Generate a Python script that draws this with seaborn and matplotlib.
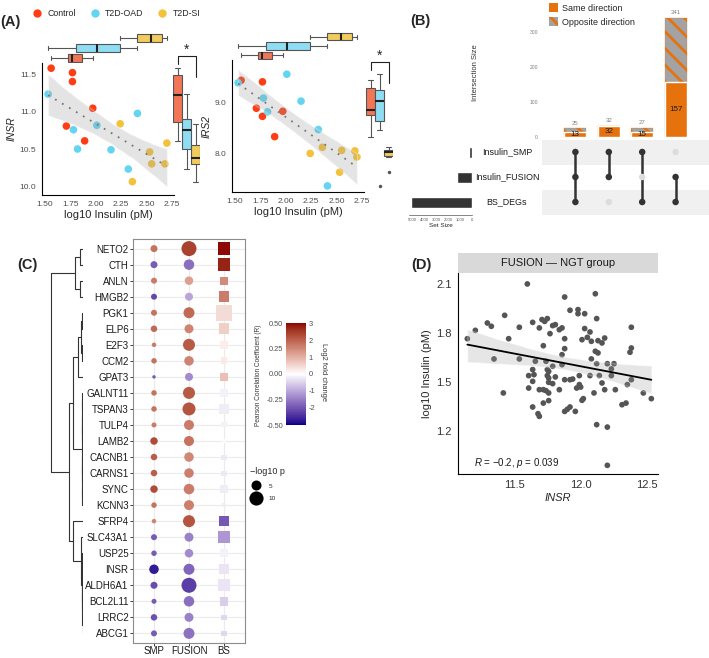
import numpy as np
import pandas as pd
import matplotlib
matplotlib.use('Agg')
import matplotlib.pyplot as plt
import matplotlib.transforms as mtransforms
from matplotlib.colors import ListedColormap, Normalize, to_rgb
from matplotlib.cm import ScalarMappable
from matplotlib.patches import Patch
from matplotlib.lines import Line2D
import seaborn as sns

sns.set_style('white')
plt.rcParams['font.family'] = ['Liberation Sans', 'DejaVu Sans']
plt.rcParams['mathtext.fontset'] = 'custom'
plt.rcParams['mathtext.it'] = 'Liberation Sans:italic'
plt.rcParams['mathtext.rm'] = 'Liberation Sans'
plt.rcParams['hatch.linewidth'] = 2.0

# ---------------- data: panel A ----------------
groups = ['Control', 'T2D-OAD', 'T2D-SI']
insulin_ctrl = [1.56, 1.77, 1.77, 1.97, 1.71, 1.89]
insulin_oad = [1.53, 1.78, 1.82, 2.01, 2.15, 2.32, 2.41]
insulin_si = [2.24, 2.36, 2.53, 2.55, 2.68, 2.70]
insr_ctrl = [11.59, 11.53, 11.41, 11.05, 10.81, 10.61]
insr_oad = [11.24, 10.76, 10.50, 10.82, 10.49, 10.23, 10.98]
insr_si = [10.84, 10.06, 10.46, 10.30, 10.30, 10.58]
irs2_ctrl = [9.44, 9.41, 8.73, 8.83, 8.89, 8.33]
irs2_oad = [9.39, 9.09, 8.82, 9.56, 9.03, 8.47, 7.36]
irs2_si = [8.00, 8.12, 7.63, 8.06, 8.05, 7.93]

# ---------------- data: panel B ----------------
combos = ['SMP&FUSION&BS', 'SMP&FUSION', 'SMP&BS', 'FUSION&BS']
inter_total = [25, 32, 27, 341]
inter_same = [13, 32, 15, 157]
set_names = ['Insulin_SMP', 'Insulin_FUSION', 'BS_DEGs']
set_sizes = [230, 1250, 5050]
membership = [[1, 1, 1], [1, 1, 0], [1, 0, 1], [0, 1, 1]]

# ---------------- data: panel C ----------------
genes = ['NETO2', 'CTH', 'ANLN', 'HMGB2', 'PGK1', 'ELP6', 'E2F3', 'CCM2', 'GPAT3',
         'GALNT11', 'TSPAN3', 'TULP4', 'LAMB2', 'CACNB1', 'CARNS1', 'SYNC', 'KCNN3',
         'SFRP4', 'SLC43A1', 'USP25', 'INSR', 'ALDH6A1', 'BCL2L11', 'LRRC2', 'ABCG1']
r_smp = [0.30, -0.32, 0.28, -0.36, 0.30, 0.32, 0.28, 0.30, -0.32, 0.30, 0.30, 0.28, 0.38,
         0.34, 0.34, 0.38, 0.30, 0.26, -0.32, -0.32, -0.45, -0.35, -0.32, -0.34, -0.32]
r_fusion = [0.40, -0.28, 0.20, -0.17, 0.32, 0.26, 0.35, 0.26, -0.22, 0.35, 0.36, 0.28, 0.30,
            0.25, 0.27, 0.28, 0.27, 0.36, -0.24, -0.22, -0.30, -0.38, -0.28, -0.24, -0.27]
lfc_bs = [3.0, 2.8, 1.5, 1.7, 0.45, 0.6, 0.22, 0.25, 0.8, -0.15, -0.2, -0.15, -0.05,
          -0.25, -0.25, -0.2, -0.2, -2.0, -1.2, -0.15, -0.3, -0.3, -0.55, -0.45, -0.45]
nlogp_smp = [2.45, 2.45, 1.8, 1.8, 1.8, 2.1, 1.0, 1.5, 0.6, 1.5, 1.5, 1.25, 2.8,
             2.1, 2.1, 2.8, 1.5, 1.0, 1.8, 1.5, 4.5, 2.45, 1.25, 2.1, 1.8]
nlogp_fusion = [11.2, 5.5, 3.6, 3.2, 6.0, 4.0, 7.2, 4.5, 3.2, 7.2, 8.4, 5.0, 5.0,
                4.5, 4.5, 5.5, 5.0, 7.2, 4.0, 3.6, 6.0, 11.2, 5.5, 4.0, 6.0]
nlogp_bs = [8.4, 7.8, 3.2, 6.0, 12.8, 6.0, 3.2, 2.4, 3.2, 2.8, 5.5, 1.25, 0.8,
            1.25, 1.25, 3.2, 1.0, 5.0, 7.2, 2.8, 5.0, 7.2, 3.6, 1.25, 1.5]
# dendrogram: (merge height, left, right)
tree = (1.0,
        (0.26, (0.10, 'NETO2', 'CTH'), (0.10, 'ANLN', 'HMGB2')),
        (0.45,
         (0.32,
          (0.15, (0.05, (0.02, 'PGK1', 'ELP6'), (0.02, 'E2F3', 'CCM2')), 'GPAT3'),
          (0.04, (0.03, (0.02, 'GALNT11', 'TSPAN3'), (0.02, 'TULP4', 'LAMB2')),
           (0.03, (0.02, 'CACNB1', 'CARNS1'), (0.02, 'SYNC', 'KCNN3')))),
         (0.32, 'SFRP4',
          (0.07, 'SLC43A1',
           (0.04, (0.02, 'USP25', 'INSR'),
            (0.03, (0.02, 'ALDH6A1', 'BCL2L11'), (0.01, 'LRRC2', 'ABCG1')))))))

# ---------------- data: panel D ----------------
insr_ngt = [11.15, 11.21, 11.30, 11.33, 11.43, 11.46, 11.35, 11.42, 11.54, 11.54, 11.64, 11.69,
            11.71, 11.75, 11.73, 11.77, 11.79, 11.81, 11.84, 11.86, 11.72, 11.88, 11.88, 11.92,
            11.98, 11.98, 12.03, 12.12, 12.03, 12.07, 12.01, 12.05, 12.08, 12.13, 12.16, 12.18,
            12.11, 12.13, 12.08, 12.38, 12.37, 12.38, 11.64, 11.65, 11.61, 11.64, 11.61, 11.66,
            11.69, 11.72, 11.74, 11.75, 11.76, 11.75, 11.76, 11.76, 11.76, 11.79, 11.81, 11.84,
            11.74, 11.64, 11.68, 11.69, 11.72, 11.76, 11.86, 11.88, 11.88, 11.90, 11.92, 11.92,
            11.94, 11.97, 11.99, 11.99, 12.00, 11.96, 12.01, 12.02, 12.07, 12.10, 12.12, 12.12,
            12.14, 12.16, 12.18, 12.20, 12.20, 12.23, 12.23, 12.25, 12.26, 12.31, 12.34, 12.35,
            12.38, 12.47, 12.53, 12.20, 11.79, 11.86, 11.60, 11.88, 12.11]
ins_ngt = [1.765, 1.816, 1.861, 1.841, 1.908, 1.765, 1.641, 1.433, 1.835, 1.641, 1.865, 1.831,
           1.882, 1.888, 1.871, 1.796, 1.845, 1.851, 1.820, 1.831, 1.722, 1.765, 1.704, 1.939,
           1.943, 1.918, 1.918, 1.888, 1.827, 1.806, 1.759, 1.773, 1.749, 1.753, 1.739, 1.769,
           1.688, 1.678, 1.641, 1.835, 1.682, 1.708, 1.576, 1.545, 1.539, 1.504, 1.463, 1.627,
           1.453, 1.453, 1.447, 1.576, 1.565, 1.539, 1.524, 1.498, 1.433, 1.490, 1.531, 1.453,
           1.627, 1.347, 1.306, 1.290, 1.371, 1.386, 1.667, 1.514, 1.320, 1.333, 1.347, 1.514,
           1.518, 1.463, 1.539, 1.484, 1.469, 1.320, 1.388, 1.398, 1.539, 1.433, 1.239, 1.612,
           1.539, 1.494, 1.453, 1.612, 1.224, 1.580, 1.539, 1.612, 1.453, 1.361, 1.371, 1.484,
           1.514, 1.433, 1.398, 0.990, 1.596, 1.606, 2.100, 2.020, 2.040]

pt_colors = {'Control': '#FF3D14', 'T2D-OAD': '#63D5F2', 'T2D-SI': '#F4C13B'}
box_colors = {'Control': '#F27655', 'T2D-OAD': '#8EDDF3', 'T2D-SI': '#F2CB5E'}
orange = '#E6720E'

W, H = 709, 658
fig = plt.figure(figsize=(W / 100, H / 100), dpi=100)


def box(l, t, r, b):
    return [l / W, 1 - b / H, (r - l) / W, (b - t) / H]


# Lab-space diverging palette like ggplot's gradient2
M = np.array([[0.4124, 0.3576, 0.1805], [0.2126, 0.7152, 0.0722], [0.0193, 0.1192, 0.9505]])
WHITE = np.array([0.95047, 1.0, 1.08883])


def to_lab(c):
    c = np.asarray(to_rgb(c))
    lin = np.where(c <= 0.04045, c / 12.92, ((c + 0.055) / 1.055) ** 2.4)
    xyz = M @ lin / WHITE
    f = np.where(xyz > 0.008856, np.cbrt(xyz), 7.787 * xyz + 16 / 116)
    return np.array([116 * f[1] - 16, 500 * (f[0] - f[1]), 200 * (f[1] - f[2])])


def from_lab(lab):
    fy = (lab[0] + 16) / 116
    f = np.array([fy + lab[1] / 500, fy, fy - lab[2] / 200])
    xyz = np.where(f ** 3 > 0.008856, f ** 3, (f - 16 / 116) / 7.787) * WHITE
    lin = np.clip(np.linalg.inv(M) @ xyz, 0, 1)
    return np.clip(np.where(lin <= 0.0031308, 12.92 * lin, 1.055 * lin ** (1 / 2.4) - 0.055), 0, 1)


labs = [to_lab(c) for c in ('darkblue', 'white', 'darkred')]
cols = []
for t in np.linspace(0, 1, 256):
    if t < 0.5:
        cols.append(from_lab(labs[0] + (labs[1] - labs[0]) * t / 0.5))
    else:
        cols.append(from_lab(labs[1] + (labs[2] - labs[1]) * (t - 0.5) / 0.5))
cmap = ListedColormap(cols)

# ================= Panel A =================
dfA = pd.DataFrame({
    'group': ['Control'] * 6 + ['T2D-OAD'] * 7 + ['T2D-SI'] * 6,
    'insulin': insulin_ctrl + insulin_oad + insulin_si,
    'INSR': insr_ctrl + insr_oad + insr_si,
    'IRS2': irs2_ctrl + irs2_oad + irs2_si,
})


def panel_a(gene, main_px, top_px, right_px, ylim, yticks, ylabels):
    xlim = (1.47, 2.77)
    ax = fig.add_axes(box(*main_px))
    sns.scatterplot(data=dfA, x='insulin', y=gene, hue='group', palette=pt_colors, s=30,
                    edgecolor='none', legend=False, ax=ax)
    sns.regplot(data=dfA, x='insulin', y=gene, scatter=False, seed=3, color='#777777',
                line_kws=dict(lw=1.3, linestyle=(0, (1, 3.5))), ax=ax)
    band = ax.collections[-1]
    band.set_facecolor('#9E9E9E')
    band.set_alpha(0.28)
    ax.set_xlim(xlim)
    ax.set_ylim(ylim)
    ax.set_xticks([1.5, 1.75, 2.0, 2.25, 2.5, 2.75])
    ax.set_xticklabels(['1.50', '1.75', '2.00', '2.25', '2.50', '2.75'])
    ax.set_yticks(yticks)
    ax.set_yticklabels(ylabels)
    ax.tick_params(labelsize=6, colors='#4D4D4D', length=2.5, width=0.6, pad=1.5)
    sns.despine(ax=ax)
    for s in ('left', 'bottom'):
        ax.spines[s].set_color('black')
        ax.spines[s].set_linewidth(0.8)
    ax.set_xlabel('log10 Insulin (pM)', fontsize=8, labelpad=2)
    ax.set_ylabel(gene, fontstyle='italic', fontsize=7.5, labelpad=2)

    axt = fig.add_axes(box(*top_px))
    sns.boxplot(data=dfA, x='insulin', y='group', hue='group', order=groups[::-1],
                hue_order=groups, palette=box_colors, width=0.8, linewidth=0.8,
                linecolor='#555555', medianprops=dict(color='#222222', lw=1.5),
                saturation=1, legend=False, ax=axt)
    axt.set_xlim(xlim)
    axt.axis('off')

    axr = fig.add_axes(box(*right_px))
    sns.boxplot(data=dfA, x='group', y=gene, hue='group', order=groups, hue_order=groups,
                palette=box_colors, width=0.95, linewidth=0.8, linecolor='#555555',
                medianprops=dict(color='#222222', lw=1.5), saturation=1, fliersize=2.5,
                flierprops=dict(marker='o', markerfacecolor='#555555', markeredgecolor='none'),
                legend=False, ax=axr)
    axr.set_ylim(ylim)
    axr.set_xlim(-0.5, 2.5)
    axr.axis('off')
    span = ylim[1] - ylim[0]
    top = dfA[gene].max() + 0.095 * span
    axr.plot([0, 0, 2, 2], [top - 0.06 * span, top, top, top - 0.165 * span],
             color='#222222', lw=0.8, clip_on=False)
    axr.text(1, top - 0.01 * span, '*', ha='center', va='bottom', fontsize=10, clip_on=False)


panel_a('INSR', (42, 63, 174, 195), (42, 33, 174, 63), (173, 63, 200, 195),
        (9.88, 11.66), [10.0, 10.5, 11.0, 11.5], ['10.0', '10.5', '11.0', '11.5'])
panel_a('IRS2', (232, 60, 364, 192), (232, 32, 364, 60), (366, 60, 393, 192),
        (7.24, 9.84), [8.0, 9.0], ['8.0', '9.0'])

handles = [Line2D([], [], marker='o', ls='', markerfacecolor=pt_colors[g],
                  markeredgecolor='none', markersize=6) for g in groups]
fig.legend(handles, groups, loc='center left', bbox_to_anchor=(33 / W, 1 - 14 / H), ncol=3,
           frameon=False, fontsize=6.3, handletextpad=0.7, columnspacing=1.6,
           handlelength=1.0, borderaxespad=0, borderpad=0)

# ================= Panel B =================
dfB = pd.DataFrame({'combo': combos, 'total': inter_total, 'same': inter_same})
axb = fig.add_axes(box(542, 0, 709, 137))
sns.barplot(data=dfB, x='combo', y='total', color='#A3A3A3', width=0.66, errorbar=None,
            saturation=1, ax=axb)
for p in axb.patches:
    p.set_hatch('\\\\')
    p.set_edgecolor(orange)
    p.set_linewidth(0.2)
sns.barplot(data=dfB, x='combo', y='same', color=orange, width=0.66, errorbar=None,
            saturation=1, ax=axb)
for i, (t, s) in enumerate(zip(inter_total, inter_same)):
    axb.text(i, t + 7, str(t), ha='center', va='bottom', fontsize=4.3, color='#808080')
    axb.text(i, s / 2, str(s), ha='center', va='center', fontsize=5.8, color='#1A1A1A')
axb.set_xlim(-1, 4)
axb.set_ylim(0, 391)
axb.set_xticks([])
axb.set_xlabel('')
axb.set_yticks([0, 100, 200, 300])
axb.tick_params(axis='y', labelsize=3.6, colors='#7F7F7F', length=2, width=0.5, pad=1)
for s in axb.spines.values():
    s.set_visible(False)
axb.set_ylabel('Intersection Size', fontsize=5.5, color='#333333')
axb.yaxis.set_label_coords(-0.38, 0.47)

axm = fig.add_axes(box(542, 139.5, 709, 214.5))
for r in range(len(set_names)):
    if r % 2 == 0:
        axm.axhspan(r - 0.5, r + 0.5, color='#F0F0F0', lw=0)
dfM = pd.DataFrame([(c, r, 'on' if membership[c][r] else 'off')
                    for c in range(len(combos)) for r in range(len(set_names))],
                   columns=['c', 'r', 'state'])
for c, mem in enumerate(membership):
    rows = [r for r, m in enumerate(mem) if m]
    axm.plot([c, c], [min(rows), max(rows)], color='#333333', lw=1.8, zorder=2)
sns.scatterplot(data=dfM, x='c', y='r', hue='state', palette={'on': '#333333', 'off': '#DDDDDD'},
                s=22, edgecolor='none', legend=False, ax=axm, zorder=3)
axm.set_xlim(-1, 4)
axm.set_ylim(2.5, -0.5)
axm.axis('off')
tr = mtransforms.blended_transform_factory(axm.transAxes, axm.transData)
for r, name in enumerate(set_names):
    axm.text(-0.21, r, name, transform=tr, ha='center', va='center', fontsize=6.4,
             color='#1A1A1A')

axs = fig.add_axes(box(409, 139.5, 472, 214.5))
sns.barplot(x=set_sizes, y=set_names, orient='h', color='#333333', width=0.44,
            saturation=1, errorbar=None, ax=axs)
axs.set_xlim(5250, 0)
axs.set_ylim(2.5, -0.5)
axs.set_yticks([])
axs.set_xticks([5000, 4000, 3000, 2000, 1000, 0])
axs.tick_params(axis='x', labelsize=3.0, colors='#555555', length=1.5, width=0.5, pad=1)
for s in ('left', 'top', 'right'):
    axs.spines[s].set_visible(False)
axs.spines['bottom'].set_linewidth(0.5)
axs.spines['bottom'].set_color('#555555')
axs.set_xlabel('Set Size', fontsize=4.6, labelpad=1)

leg_handles = [Patch(facecolor=orange, edgecolor='none'),
               Patch(facecolor='#A3A3A3', edgecolor=orange, hatch='\\\\', lw=0)]
fig.legend(leg_handles, ['Same direction', 'Opposite direction'], loc='center left',
           bbox_to_anchor=(549 / W, 1 - 15 / H), frameon=False, fontsize=6.5,
           handlelength=1.0, handleheight=1.1, labelspacing=0.55, handletextpad=0.4,
           borderaxespad=0, borderpad=0)

# ================= Panel C =================
ng = len(genes)
c_top, c_bot = 239, 643
axc = fig.add_axes(box(133, c_top, 245, c_bot))
dfC = pd.DataFrame({
    'x': [0] * ng + [1] * ng,
    'y': list(range(ng)) * 2,
    'R': r_smp + r_fusion,
    'nlogp': nlogp_smp + nlogp_fusion,
})
dfBS = pd.DataFrame({'x': [2] * ng, 'y': list(range(ng)), 'lfc': lfc_bs, 'nlogp': nlogp_bs})
sns.scatterplot(data=dfC, x='x', y='y', hue='R', palette=cmap, hue_norm=(-0.5, 0.5),
                size='nlogp', sizes=(0, 156), size_norm=(0, 15), edgecolor='none',
                legend=False, ax=axc, zorder=3)
sns.scatterplot(data=dfBS, x='x', y='y', hue='lfc', palette=cmap, hue_norm=(-3.05, 3.05),
                size='nlogp', sizes=(0, 156), size_norm=(0, 15), marker='s', edgecolor='none',
                legend=False, ax=axc, zorder=3)
axc.set_xlim(-0.6, 2.6)
axc.set_ylim(ng - 0.4, -0.6)
axc.set_xticks([0, 1, 2])
axc.set_xticklabels(['SMP', 'FUSION', 'BS'])
axc.set_yticks(range(ng))
axc.set_yticklabels(genes)
axc.set_xlabel('')
axc.set_ylabel('')
axc.grid(True, color='#EBEBEB', lw=0.8)
axc.set_axisbelow(True)
axc.tick_params(labelsize=7, colors='#1A1A1A', length=2, width=0.6, pad=1.2,
                left=True, bottom=True)
axc.tick_params(axis='x', pad=0.5)
for s in axc.spines.values():
    s.set_color('#8C8C8C')
    s.set_linewidth(0.8)

# dendrogram
axd0 = fig.add_axes(box(45, c_top, 83, c_bot))


def draw_tree(node):
    if isinstance(node, str):
        return genes.index(node), 0.0
    h, left, right = node
    yl, hl = draw_tree(left)
    yr, hr = draw_tree(right)
    axd0.plot([hl, h, h, hr], [yl, yl, yr, yr], color='#333333', lw=0.8)
    return (yl + yr) / 2, h


draw_tree(tree)
axd0.set_xlim(1.19, 0)
axd0.set_ylim(ng - 0.4, -0.6)
axd0.axis('off')

# colorbar with two scales
cax = fig.add_axes(box(286, 323, 306, 425))
cb = fig.colorbar(ScalarMappable(norm=Normalize(-0.5, 0.5), cmap=cmap), cax=cax)
cb.outline.set_visible(False)
cax.yaxis.set_ticks_position('left')
cax.yaxis.set_label_position('left')
cax.set_yticks([-0.5, -0.25, 0, 0.25, 0.5])
cax.set_yticklabels(['-0.50', '-0.25', '0.00', '0.25', '0.50'])
cax.tick_params(labelsize=5.3, colors='#4D4D4D', length=0, pad=2)
cax2 = fig.add_axes(box(286, 323, 306, 425), frameon=False)
cax2.set_ylim(-3.05, 3.05)
cax2.set_xticks([])
cax2.yaxis.tick_right()
cax2.set_yticks([-2, -1, 0, 1, 2, 3])
cax2.set_yticklabels(['-2', '-1', '0', '1', '2', '3'])
cax2.tick_params(labelsize=5.3, colors='#4D4D4D', length=0, pad=2)
fig.text(258 / W, 1 - 375 / H, 'Pearson Correlation Coefficient (R)', rotation=90,
         fontsize=4.7, ha='center', va='center', color='#333333')
fig.text(323 / W, 1 - 372 / H, 'Log2 fold change', rotation=270, fontsize=5.4,
         ha='center', va='center', color='#333333')

size_handles = [Line2D([], [], marker='o', ls='', color='black', markeredgecolor='none',
                       markersize=np.sqrt(156 / 15 * v)) for v in (5, 10)]
fig.legend(size_handles, ['5', '10'], title='\u2212log10 p', loc='upper left',
           bbox_to_anchor=(250 / W, 1 - 467 / H), frameon=False, fontsize=4.6,
           title_fontsize=6.5, labelspacing=1.1, handletextpad=0.9, alignment='left',
           borderaxespad=0, borderpad=0)

# ================= Panel D =================
axD = fig.add_axes(box(458, 273, 658, 474))
sns.scatterplot(x=insr_ngt, y=ins_ngt, color='#555555', s=17, edgecolor='none', ax=axD)
sns.regplot(x=insr_ngt, y=ins_ngt, scatter=False, seed=2, color='black',
            line_kws=dict(lw=1.3), ax=axD)
band = axD.collections[-1]
band.set_facecolor('#9E9E9E')
band.set_alpha(0.25)
axD.set_xlim(11.08, 12.58)
axD.set_ylim(0.937, 2.167)
axD.set_xticks([11.5, 12.0, 12.5])
axD.set_yticks([1.2, 1.5, 1.8, 2.1])
axD.tick_params(labelsize=8, colors='#333333', length=3, width=0.7, pad=1.5)
sns.despine(ax=axD)
for s in ('left', 'bottom'):
    axD.spines[s].set_color('black')
    axD.spines[s].set_linewidth(0.8)
axD.set_xlabel('INSR', fontstyle='italic', fontsize=8, labelpad=2)
axD.set_ylabel('log10 Insulin (pM)', fontsize=8, labelpad=3)
axD.text(0.08, 0.055, '$R$ = \u22120.2, $p$ = 0.039', transform=axD.transAxes,
         fontsize=7, va='center', ha='left', color='#1A1A1A')

axstrip = fig.add_axes(box(458, 253, 658, 273))
axstrip.set_facecolor('#D9D9D9')
axstrip.set_xticks([])
axstrip.set_yticks([])
for s in axstrip.spines.values():
    s.set_visible(False)
axstrip.text(0.5, 0.5, 'FUSION \u2014 NGT group', transform=axstrip.transAxes,
             ha='center', va='center', fontsize=8, color='#1A1A1A')

# panel letters
for lab, x, y in [('(A)', 10, 22), ('(B)', 420, 21), ('(C)', 27, 265), ('(D)', 421, 265)]:
    fig.text(x / W, 1 - y / H, lab, fontsize=10.5, fontweight='bold', ha='center', va='center')

fig.savefig('out.png', dpi=100)
